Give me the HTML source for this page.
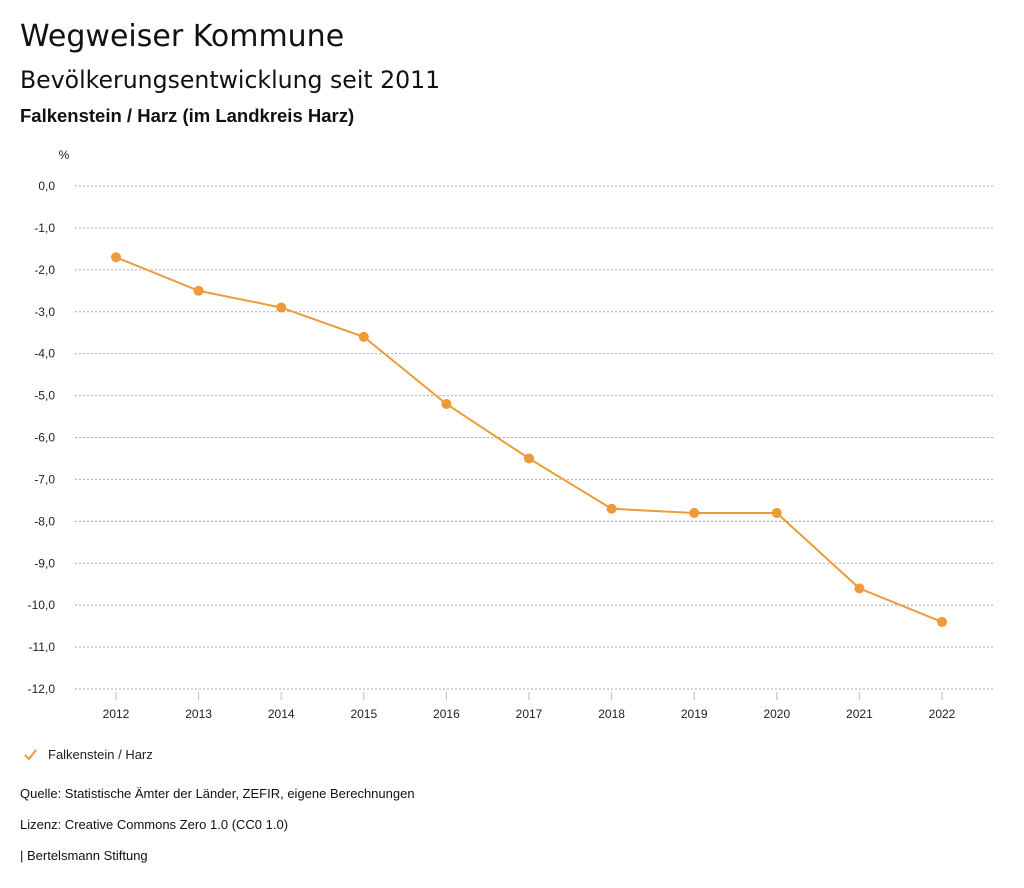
<!DOCTYPE html>
<html><head><meta charset="utf-8"><style>
body{margin:0;background:#fff;font-family:"Liberation Sans","DejaVu Sans",sans-serif;color:#111;}
.t{position:absolute;left:20px;white-space:nowrap}
</style></head><body>
<div style="position:relative;width:1024px;height:888px;overflow:hidden">
<div class="t" style="top:19px;font-size:30px;font-family:'DejaVu Sans',sans-serif">Wegweiser Kommune</div>
<div class="t" style="top:66px;font-size:23.6px;font-family:'DejaVu Sans',sans-serif">Bevölkerungsentwicklung seit 2011</div>
<div class="t" style="top:105px;font-size:18.5px;font-weight:bold">Falkenstein / Harz (im Landkreis Harz)</div>
<svg id="chart" width="1024" height="888" style="position:absolute;left:0;top:0"></svg>
<div class="t" style="top:786px;font-size:13px">Quelle: Statistische Ämter der Länder, ZEFIR, eigene Berechnungen</div>
<div class="t" style="top:817px;font-size:13px">Lizenz: Creative Commons Zero 1.0 (CC0 1.0)</div>
<div class="t" style="top:848px;font-size:13px">| Bertelsmann Stiftung</div>
</div>
<script>
const years=["2012","2013","2014","2015","2016","2017","2018","2019","2020","2021","2022"];
const values=[-1.7,-2.5,-2.9,-3.6,-5.2,-6.5,-7.7,-7.8,-7.8,-9.6,-10.4];
const yTicks=[0,-1,-2,-3,-4,-5,-6,-7,-8,-9,-10,-11,-12];
const NS="http://www.w3.org/2000/svg";
const svg=document.getElementById('chart');
const y=v=>186+(-v)*(689-186)/12;
const x=i=>116+i*(942-116)/(years.length-1);
function mk(t,a){const e=document.createElementNS(NS,t);for(const k in a)e.setAttribute(k,a[k]);svg.appendChild(e);return e;}
const u=mk('text',{x:64,y:159,'font-size':12,'text-anchor':'middle',fill:'#222'});u.textContent='%';


yTicks.forEach(v=>{
 const l=mk('line',{x1:75,x2:993,y1:y(v),y2:y(v),stroke:'#aaa','stroke-dasharray':'2,2'});
 
 
 const t=mk('text',{x:55,y:y(v)+4,'font-size':12,'text-anchor':'end',fill:'#222'});
 t.textContent=v.toFixed(1).replace('.',',');
 
 
});
years.forEach((yr,i)=>{
 const l=mk('line',{x1:x(i),x2:x(i),y1:692,y2:700,stroke:'#bbb'});
 
 
 const t=mk('text',{x:x(i),y:718,'font-size':12,'text-anchor':'middle',fill:'#222'});
 t.textContent=yr;
 
 
});
const p=mk('polyline',{points:values.map((v,i)=>x(i)+','+y(v)).join(' '),fill:'none',stroke:'#ee9a3a','stroke-width':2});


values.forEach((v,i)=>{
 const c=mk('circle',{cx:x(i),cy:y(v),r:5,fill:'#ee9a3a'});
 
 
});
const ck=mk('polyline',{points:'25,755 29,759 36,750',fill:'none',stroke:'#ee9a3a','stroke-width':2});


const lt=mk('text',{x:48,y:759,'font-size':13,fill:'#222'});
lt.textContent='Falkenstein / Harz';


</script>
</body></html>
